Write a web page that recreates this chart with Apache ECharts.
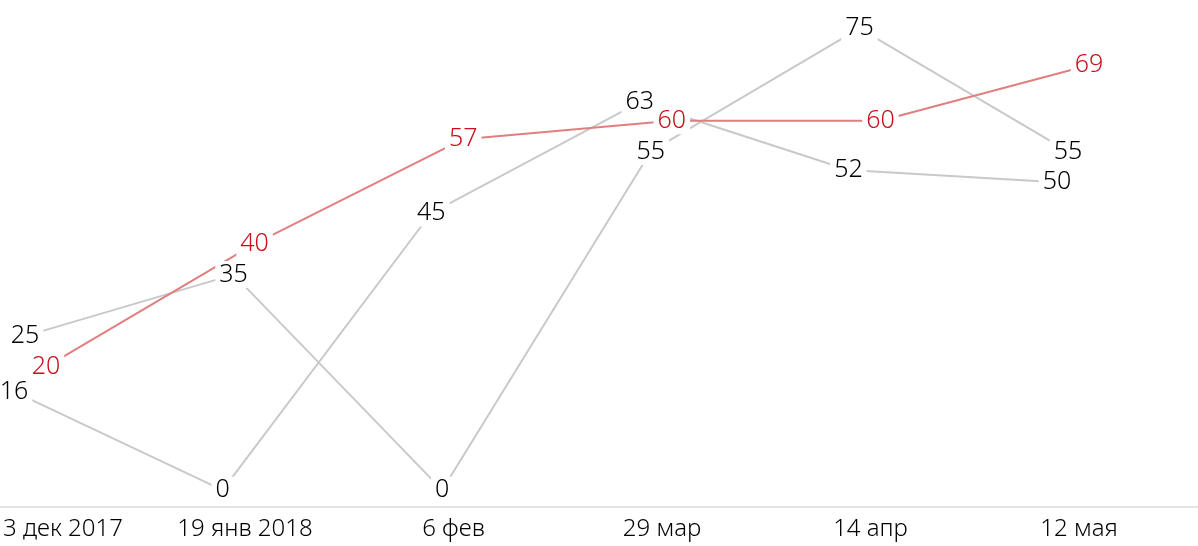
<!DOCTYPE html>
<html>
<head>
<meta charset="utf-8">
<script src="https://cdn.jsdelivr.net/npm/echarts@6/dist/echarts.min.js"></script>
<style>
html,body{margin:0;padding:0;background:#fff;}
#chart{width:1198px;height:546px;}
</style>
</head>
<body>
<div id="chart"></div>
<script>
const categories = ['3 дек 2017', '19 янв 2018', '6 фев', '29 мар', '14 апр', '12 мая'];
const grayA = [16, 0, 45, 63, 52, 50];
const grayB = [25, 35, 0, 55, 75, 55];
const red = [20, 40, 57, 60, 60, 69];

const FONT = 'Noto Sans';
const SPAN = 1043;
const BOTTOM = 39.3;
const YMIN = -2.7, YMAX = 79.6;
const GRAY_LINE = '#c9c9c9', RED_LINE = '#e07f80', RED_TEXT = '#c8101a';

// horizontal offset of each series' group (layout only)
const offsets = [14, 25, 46, 36];

const grids = offsets.map(l => ({left: l, width: SPAN, top: 0, bottom: BOTTOM, containLabel: false}));
grids.push({left: 0, right: 0, top: 0, bottom: BOTTOM});

const xAxes = offsets.map((l, i) => ({
  type: 'category', gridIndex: i, boundaryGap: false,
  show: i === 3,
  data: categories.map((c, k) => k === 0 ? {value: c, textStyle: {padding: [0, 0, 0, 53]}} : c),
  axisLine: {show: false, onZero: false}, axisTick: {show: false}, splitLine: {show: false},
  axisLabel: {show: i === 3, interval: 0, color: '#000', fontFamily: FONT, fontWeight: 300, fontSize: 24, margin: 10}
}));
xAxes.push({
  type: 'value', gridIndex: 4, min: 0, max: 1, show: true, position: 'bottom',
  axisLine: {show: true, onZero: false, lineStyle: {color: '#e3e3e3', width: 2}},
  axisTick: {show: false}, axisLabel: {show: false}, splitLine: {show: false}
});

const yAxes = grids.map((g, i) => ({
  type: 'value', gridIndex: i, min: YMIN, max: YMAX, show: false,
  splitLine: {show: false}
}));

function lineSeries(data, idx, color) {
  return {
    type: 'line', xAxisIndex: idx, yAxisIndex: idx, data: data,
    symbol: 'none', z: 2, silent: true,
    lineStyle: {color: color, width: 2}
  };
}
function labelSeries(data, idx, textColor) {
  return {
    type: 'line', xAxisIndex: idx, yAxisIndex: idx, data: data,
    symbol: 'circle', symbolSize: 1, showSymbol: true, z: 10, silent: true,
    itemStyle: {color: 'rgba(255,255,255,0)'},
    lineStyle: {width: 0, opacity: 0},
    label: {
      show: true, position: 'inside', color: textColor,
      fontFamily: FONT, fontWeight: 300, fontSize: 25,
      backgroundColor: '#fff', padding: [1, 4, 1, 4]
    },
    emphasis: {disabled: true}
  };
}

const option = {
  animation: false,
  backgroundColor: '#fff',
  grid: grids,
  xAxis: xAxes,
  yAxis: yAxes,
  series: [
    lineSeries(grayA, 0, GRAY_LINE),
    lineSeries(grayB, 1, GRAY_LINE),
    lineSeries(red, 2, RED_LINE),
    labelSeries(grayA, 0, '#000'),
    labelSeries(grayB, 1, '#000'),
    labelSeries(red, 2, RED_TEXT)
  ]
};

const chart = echarts.init(document.getElementById('chart'), null, {renderer: 'canvas'});
chart.setOption(option);
</script>
</body>
</html>
